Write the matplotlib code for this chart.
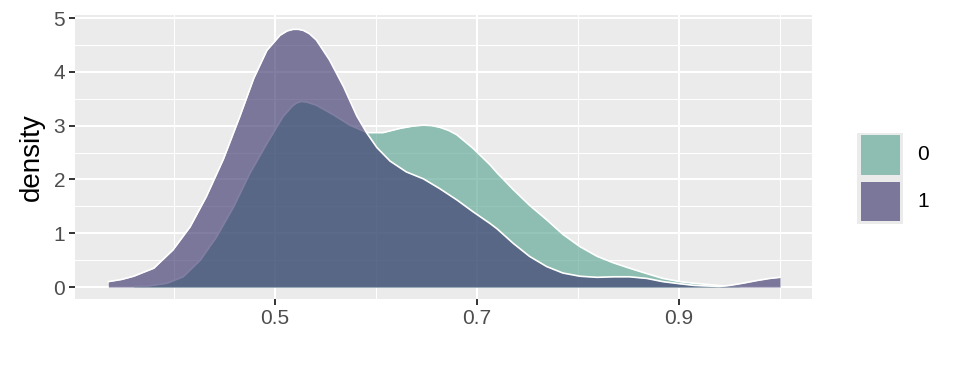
import matplotlib
matplotlib.use("Agg")
import matplotlib.pyplot as plt
from matplotlib.patches import Rectangle

plt.rcParams['font.family'] = ['Liberation Sans', 'DejaVu Sans']

groups = ["0", "1"]
colors = ["#5da792", "#3d3970"]

x0 = [0.360, 0.375, 0.393, 0.409, 0.426, 0.442, 0.459, 0.475, 0.492, 0.508,
      0.517, 0.521, 0.526, 0.531, 0.541, 0.558, 0.574, 0.591, 0.607, 0.624,
      0.636, 0.647, 0.655, 0.663, 0.672, 0.680, 0.696, 0.713, 0.720, 0.736,
      0.752, 0.769, 0.785, 0.802, 0.819, 0.835, 0.851, 0.868, 0.884, 0.901,
      0.915, 0.927, 0.944, 0.960]
y0 = [0.01, 0.02, 0.07, 0.19, 0.50, 0.93, 1.49, 2.11, 2.67, 3.17,
      3.36, 3.42, 3.45, 3.44, 3.38, 3.20, 3.01, 2.87, 2.87, 2.95,
      2.99, 3.01, 3.00, 2.97, 2.91, 2.83, 2.58, 2.27, 2.12, 1.81,
      1.52, 1.25, 0.98, 0.75, 0.57, 0.45, 0.35, 0.25, 0.16, 0.10,
      0.07, 0.05, 0.02, 0.01]

x1 = [0.335, 0.348, 0.360, 0.380, 0.399, 0.416, 0.432, 0.449, 0.465, 0.479,
      0.492, 0.505, 0.512, 0.518, 0.523, 0.528, 0.534, 0.541, 0.554, 0.568,
      0.581, 0.591, 0.601, 0.614, 0.630, 0.647, 0.663, 0.680, 0.696, 0.713,
      0.720, 0.736, 0.752, 0.769, 0.785, 0.802, 0.819, 0.835, 0.851, 0.868,
      0.884, 0.901, 0.915, 0.927, 0.940, 0.950, 0.963, 0.977, 0.990, 1.000]
y1 = [0.10, 0.14, 0.20, 0.35, 0.69, 1.12, 1.68, 2.38, 3.16, 3.88,
      4.40, 4.68, 4.76, 4.79, 4.79, 4.77, 4.71, 4.59, 4.22, 3.72,
      3.18, 2.86, 2.59, 2.34, 2.14, 2.01, 1.83, 1.62, 1.40, 1.18,
      1.08, 0.81, 0.57, 0.38, 0.26, 0.20, 0.18, 0.19, 0.19, 0.16,
      0.10, 0.06, 0.03, 0.02, 0.01, 0.03, 0.07, 0.12, 0.16, 0.18]

xticks = [0.5, 0.7, 0.9]
yticks = [0, 1, 2, 3, 4, 5]

W, H = 960, 384
fig = plt.figure(figsize=(W / 100, H / 100), dpi=100)
fig.patch.set_facecolor("white")

L, R, T, B = 75, 812, 15, 299
ax = fig.add_axes([L / W, 1 - B / H, (R - L) / W, (B - T) / H])
ax.set_facecolor("#ebebeb")
ax.set_xlim(0.302, 1.0317)
ax.set_ylim(-0.223, 5.056)

ax.set_xticks(xticks)
ax.set_xticklabels([f"{v:.1f}" for v in xticks])
ax.set_yticks(yticks)
ax.set_xticks([0.4, 0.6, 0.8, 1.0], minor=True)
ax.set_yticks([0.5, 1.5, 2.5, 3.5, 4.5], minor=True)
ax.grid(which="major", color="white", lw=1.5)
ax.grid(which="minor", color="white", lw=0.75)
ax.set_axisbelow(True)
for s in ax.spines.values():
    s.set_visible(False)
ax.tick_params(which="major", length=4, width=1.4, color="#333333",
               labelsize=15, labelcolor="#4d4d4d", pad=3)
ax.tick_params(which="minor", length=0)

z = 2
for xs, ys, c in [(x0, y0, colors[0]), (x1, y1, colors[1])]:
    ax.fill_between(xs, 0, ys, color=c, alpha=0.65, lw=0, zorder=z)
    ax.plot(xs, ys, color="white", lw=1.2, zorder=z + 1, solid_joinstyle="round")
    z += 2

ax.set_ylabel("density", fontsize=20, color="black", labelpad=6)

# legend drawn in pixel coordinates
lax = fig.add_axes([0, 0, 1, 1])
lax.set_xlim(0, W)
lax.set_ylim(H, 0)
lax.axis("off")
lax.patch.set_alpha(0)
lax.add_patch(Rectangle((857, 132.5), 45.5, 91, facecolor="#ebebeb", edgecolor="none"))
keys_y = [135, 181.5]
for g, c, ky in zip(groups, colors, keys_y):
    lax.add_patch(Rectangle((860.5, ky), 39.5, 39.5, facecolor="#ebebeb", edgecolor="none"))
    lax.add_patch(Rectangle((860.5, ky), 39.5, 39.5, facecolor=c, alpha=0.65,
                            edgecolor="none"))
    lax.text(917, ky + 20, g, fontsize=15, color="black", va="center", ha="left")

fig.savefig("out.png", dpi=100)
